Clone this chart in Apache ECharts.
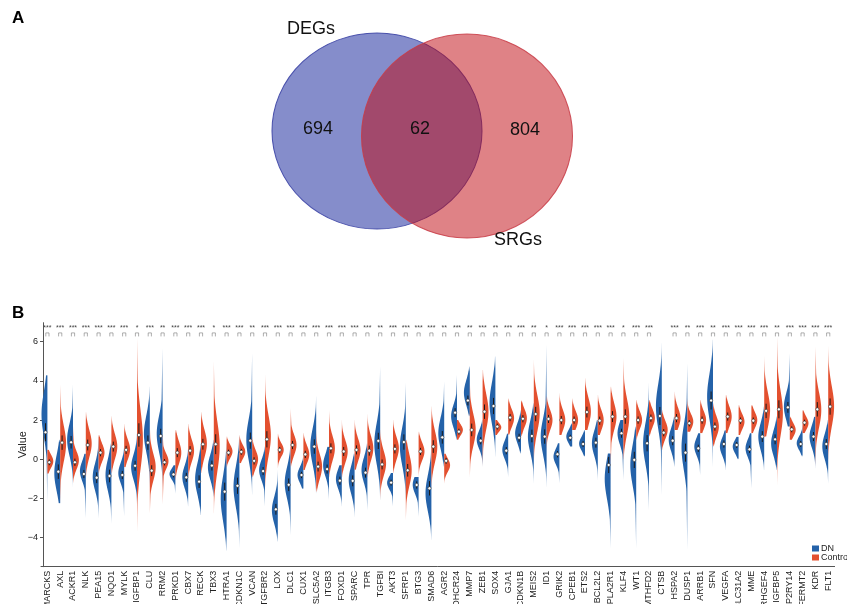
<!DOCTYPE html>
<html>
<head>
<meta charset="utf-8">
<script src="https://cdn.jsdelivr.net/npm/echarts@6.0.0/dist/echarts.min.js"></script>
<style>html,body{margin:0;padding:0;background:#fff}#c{width:847px;height:604px}</style>
</head>
<body>
<div id="c"></div>
<script>
// ---------------- data ----------------
const vennLabels = ['DEGs', 'SRGs'];
const vennCounts = [694, 62, 804];

const genes = ['MARCKS','AXL','ACKR1','NLK','PEA15','NQO1','MYLK','IGFBP1','CLU','RRM2',
 'PRKD1','CBX7','RECK','TBX3','HTRA1','CDKN1C','VCAN','TGFBR2','LOX','DLC1',
 'CUX1','SLC5A2','ITGB3','FOXD1','SPARC','TPR','TGFBI','AKT3','SFRP1','BTG3',
 'SMAD6','AGR2','DHCR24','MMP7','ZEB1','SOX4','GJA1','CDKN1B','MEIS2','ID1',
 'GRIK2','CPEB1','ETS2','BCL2L2','PLA2R1','KLF4','WT1','MTHFD2','CTSB','HSPA2',
 'DUSP1','ARRB1','SFN','VEGFA','SLC31A2','MME','ARHGEF4','IGFBP5','P2RY14','FERMT2',
 'KDR','FLT1'];

const sig = ['***','***','***','***','***','***','***','*','***','**',
 '***','***','***','*','***','***','**','***','***','***',
 '***','***','***','***','***','***','**','***','***','***',
 '***','**','***','**','***','**','***','***','**','*',
 '***','***','***','***','***','*','***','***','','***',
 '**','***','**','***','***','***','***','**','***','***',
 '***','***'];

// DN group (blue): lower end, mode, upper end, median, body spread
const dnLo = [-2.16,-2.25,-1.4,-3.0,-3.0,-3.26,-2.9,-2.25,-1.4,-1.4,
 -1.75,-2.4,-2.84,-1.9,-4.65,-4.5,-1.8,-2.4,-4.2,-3.86,
 -1.5,-1.73,-2.07,-2.4,-2.93,-2.6,-2.07,-2.4,-2.07,-2.93,
 -4.1,-0.37,1.0,2.2,-0.37,0.14,-0.9,0.3,-1.22,-1.4,
 -1.22,0.65,0.14,-1.05,-4.54,-1.05,-4.54,-2.58,-1.82,-0.37,
 -4.6,-0.8,-0.37,-0.54,0.0,-1.48,-0.55,-0.55,1.67,0.14,
 -0.46,-1.22];
const dnMode = [2.3,-0.7,1.0,-0.6,-0.9,-0.8,-0.7,-0.4,1.3,1.3,
 -0.75,-0.9,-1.0,-0.4,-2.0,-1.4,1.0,-0.55,-2.6,-1.2,
 -0.8,0.65,-0.3,-1.0,-1.05,-0.55,0.8,-1.2,0.65,-1.3,
 -1.73,1.33,2.2,3.4,1.0,2.86,0.48,1.33,1.16,1.16,
 0.14,1.16,0.8,0.82,-1.0,1.33,-0.3,0.8,2.7,1.0,
 0.6,0.65,3.2,0.65,0.65,0.56,1.16,0.82,2.69,0.82,
 1.16,0.65];
const dnHi = [4.3,1.0,3.8,0.3,1.24,0.8,0.65,1.3,3.7,5.66,
 -0.3,0.5,0.8,1.0,0.8,1.16,5.4,0.65,-0.55,0.65,
 0.1,3.2,0.65,-0.3,0.3,0.8,4.73,-0.7,3.9,-0.9,
 0.65,3.96,4.3,4.73,2.0,5.24,1.33,2.5,2.86,5.83,
 0.82,1.84,1.5,2.0,0.3,2.0,1.67,3.88,5.92,2.18,
 4.9,1.33,6.1,1.5,1.16,1.33,2.7,2.18,5.4,1.84,
 2.18,2.0];
const dnMed = [1.38,-0.63,0.87,-0.75,-0.94,-0.85,-0.8,-0.33,0.85,1.19,
 -0.77,-0.92,-1.14,-0.32,-1.65,-1.35,0.95,-0.6,-2.55,-1.3,
 -0.8,0.65,-0.5,-1.09,-1.1,-0.68,0.94,-1.19,0.88,-1.31,
 -1.48,1.12,2.38,3.0,0.95,2.72,0.44,1.1,1.19,1.16,
 0.26,1.1,0.78,0.85,-0.29,1.33,-0.03,0.82,2.21,0.95,
 0.34,0.56,3.0,0.78,0.73,0.51,1.16,1.02,2.65,0.78,
 1.16,0.78];
const dnSd = [1.0,0.8,0.7,0.45,0.6,0.7,0.45,0.55,0.8,0.8,
 0.25,0.5,0.7,0.55,1.0,0.9,0.9,0.45,0.6,0.7,
 0.35,0.8,0.5,0.45,0.6,0.55,0.9,0.3,0.85,0.4,
 0.8,0.7,0.5,0.55,0.4,0.9,0.4,0.45,0.7,0.8,
 0.35,0.3,0.3,0.55,0.9,0.5,0.9,0.9,1.0,0.5,
 1.0,0.4,1.0,0.4,0.3,0.4,0.6,0.55,0.6,0.3,
 0.5,0.55];

// Control group (red)
const ctLo = [-0.75,-2.2,-1.2,-0.9,-0.7,-0.7,-0.4,-3.7,-2.75,-2.3,
 -1.05,-0.9,-0.7,-2.75,-0.4,-0.2,-0.9,-1.4,-0.45,-0.37,
 -0.54,-1.65,-0.9,-0.9,-0.55,-0.9,-2.07,-0.7,-3.1,-0.9,
 -1.4,-1.22,1.0,-0.9,-0.37,1.24,1.24,1.16,0.0,0.48,
 1.24,1.5,1.5,1.24,-0.37,0.0,1.0,1.16,0.48,1.5,
 1.41,1.33,0.65,1.33,1.24,1.33,1.16,-1.31,1.0,1.33,
 -0.37,0.0];
const ctMode = [-0.1,0.8,-0.05,0.8,0.34,0.65,0.5,1.0,-0.4,-0.1,
 0.34,0.44,0.8,0.65,0.4,0.38,0.0,1.2,0.48,0.73,
 0.25,-0.37,0.56,0.4,0.48,0.56,-0.2,0.56,-0.55,0.4,
 0.65,-0.3,1.5,1.5,2.43,1.63,2.1,2.1,2.35,2.0,
 2.0,2.0,2.43,2.0,2.18,2.18,2.0,2.1,1.5,2.1,
 1.92,2.0,1.67,2.18,1.92,2.0,2.52,2.35,1.5,1.84,
 2.52,2.7];
const ctHi = [0.5,3.8,1.7,2.4,1.24,2.2,1.8,6.2,1.7,1.3,
 1.5,1.8,2.4,5.0,1.16,1.24,1.16,4.3,1.3,2.6,
 1.34,1.5,2.5,2.0,2.0,2.3,1.5,2.0,1.0,1.4,
 2.7,0.3,2.0,4.0,4.56,2.0,3.1,3.0,5.07,3.2,
 3.37,3.1,4.13,3.28,3.7,5.15,3.03,3.03,2.52,3.45,
 3.1,3.03,2.86,3.28,2.77,2.77,5.24,6.26,2.18,2.52,
 5.75,5.75];
const ctMed = [-0.15,0.85,-0.15,0.73,0.34,0.65,0.48,1.24,-0.58,-0.15,
 0.34,0.44,0.77,0.77,0.34,0.38,-0.08,1.02,0.48,0.73,
 0.25,-0.37,0.56,0.4,0.48,0.44,-0.26,0.53,-0.56,0.4,
 0.65,-0.08,1.41,1.5,2.43,1.67,2.13,2.07,2.31,2.06,
 2.0,2.0,2.41,1.97,2.18,2.18,2.0,2.1,1.36,2.1,
 1.84,2.0,1.67,2.18,1.97,1.97,2.47,2.55,1.53,1.87,
 2.55,2.69];
const ctSd = [0.3,0.8,0.4,0.6,0.4,0.55,0.45,1.3,0.6,0.35,
 0.5,0.5,0.6,1.1,0.3,0.3,0.4,0.9,0.3,0.45,
 0.4,0.55,0.55,0.5,0.5,0.55,0.55,0.5,0.7,0.4,
 0.7,0.3,0.25,0.7,0.8,0.2,0.4,0.4,0.8,0.45,
 0.45,0.4,0.6,0.45,0.6,0.8,0.4,0.4,0.4,0.45,
 0.35,0.4,0.45,0.45,0.35,0.35,0.8,1.0,0.3,0.3,
 0.8,0.9];

const yTicks = [-4, -2, 0, 2, 4, 6];

// ---------------- drawing ----------------
const BLUE = [36, 98, 169];
const RED = [227, 80, 47];
const rgba = (c, a) => 'rgba(' + c[0] + ',' + c[1] + ',' + c[2] + ',' + a + ')';
const SIG_Y = 6.7, BR_TOP = 6.45, BR_BOT = 6.27;
const SD_SCALE = 1.15, TAIL = 0.26;

function makeHalf(side, col) {
  return function (params, api) {
    const i = api.value(0), lo = api.value(1), mode = api.value(2),
          hi = api.value(3), med = api.value(4), sd = api.value(5) * SD_SCALE;
    const cx = api.coord([i, 0])[0];
    const band = api.size([1, 0])[0];
    const W = band * 0.46;
    const pts = [[cx, api.coord([i, hi])[1]]];
    const N = 70;
    for (let k = 0; k <= N; k++) {
      const v = hi - (hi - lo) * k / N;
      const d = v - mode;
      const sideLen = d >= 0 ? (hi - mode) : (mode - lo);
      const g = Math.exp(-0.5 * (d / sd) * (d / sd));
      const t = sideLen > 0 ? TAIL * Math.pow(Math.max(0, 1 - Math.abs(d) / sideLen), 0.8) : 0;
      const f = Math.max(g, t);
      pts.push([cx + side * W * f, api.coord([i, v])[1]]);
    }
    pts.push([cx, api.coord([i, lo])[1]]);
    const span = hi - lo;
    let t1 = (hi - (mode + 1.7 * sd)) / span, t2 = (hi - (mode - 1.7 * sd)) / span;
    t1 = Math.min(Math.max(t1, 0), 1); t2 = Math.min(Math.max(t2, t1), 1);
    const fill = new echarts.graphic.LinearGradient(0, 0, 0, 1, [
      { offset: 0, color: rgba(col, 0.3) },
      { offset: t1, color: rgba(col, 1) },
      { offset: t2, color: rgba(col, 1) },
      { offset: 1, color: rgba(col, 0.3) }
    ]);
    const bx = cx + side * 1.9;
    const q = Math.max(0.4 * sd, 0.15);
    const ya = api.coord([i, Math.min(med + q, hi)])[1];
    const yb = api.coord([i, Math.max(med - q, lo)])[1];
    const ym = api.coord([i, med])[1];
    return {
      type: 'group',
      children: [
        { type: 'polygon', shape: { points: pts }, style: { fill: fill, stroke: null } },
        { type: 'line', shape: { x1: bx, y1: ya, x2: bx, y2: yb }, style: { stroke: '#1a1a1a', lineWidth: 1 } },
        { type: 'circle', shape: { cx: bx, cy: ym, r: 1.6 }, style: { fill: '#fff', stroke: '#333', lineWidth: 0.6 } }
      ]
    };
  };
}

function renderSig(params, api) {
  const i = api.value(0);
  const s = sig[params.dataIndex];
  if (!s) return { type: 'group', children: [] };
  const p = api.coord([i, SIG_Y]);
  const yt = api.coord([i, BR_TOP])[1], yb = api.coord([i, BR_BOT])[1];
  const cx = p[0];
  return {
    type: 'group',
    children: [
      { type: 'text', style: { text: s, x: cx, y: p[1], align: 'center', verticalAlign: 'middle',
          font: '7px "Liberation Sans", Arial, sans-serif', fill: '#444' } },
      { type: 'polyline', shape: { points: [[cx - 1.6, yb], [cx - 1.6, yt], [cx + 1.6, yt], [cx + 1.6, yb]] },
        style: { stroke: '#777', lineWidth: 0.6, fill: null } }
    ]
  };
}

const dnData = genes.map((g, i) => [i, dnLo[i], dnMode[i], dnHi[i], dnMed[i], dnSd[i]]);
const ctData = genes.map((g, i) => [i, ctLo[i], ctMode[i], ctHi[i], ctMed[i], ctSd[i]]);
const sigData = genes.map((g, i) => [i, SIG_Y]);

const FONT = '"Liberation Sans", Arial, Helvetica, sans-serif';
const chart = echarts.init(document.getElementById('c'), null, { renderer: 'canvas' });

const option = {
  animation: false,
  backgroundColor: '#fff',
  textStyle: { fontFamily: FONT },
  graphic: [
    { type: 'text', left: 12, top: 10, style: { text: 'A', font: 'bold 17px ' + FONT, fill: '#000' } },
    { type: 'text', left: 12, top: 305, style: { text: 'B', font: 'bold 17px ' + FONT, fill: '#000' } },
    { type: 'circle', x: 377, y: 131, scaleX: 1.05, scaleY: 0.98, shape: { cx: 0, cy: 0, r: 100 },
      style: { fill: 'rgba(33,48,160,0.55)', stroke: 'rgba(60,68,165,0.9)', lineWidth: 1 }, z: 1 },
    { type: 'circle', x: 467, y: 136, scaleX: 1.055, scaleY: 1.02, shape: { cx: 0, cy: 0, r: 100 },
      style: { fill: 'rgba(191,5,13,0.5)', stroke: 'rgba(200,60,70,0.85)', lineWidth: 1 }, z: 2 },
    { type: 'text', x: 311, y: 29, z: 5, style: { text: vennLabels[0], align: 'center', verticalAlign: 'middle', font: '18px ' + FONT, fill: '#111' } },
    { type: 'text', x: 518, y: 240, z: 5, style: { text: vennLabels[1], align: 'center', verticalAlign: 'middle', font: '18px ' + FONT, fill: '#111' } },
    { type: 'text', x: 318, y: 129.5, z: 5, style: { text: String(vennCounts[0]), align: 'center', verticalAlign: 'middle', font: '18px ' + FONT, fill: '#111' } },
    { type: 'text', x: 420, y: 129.5, z: 5, style: { text: String(vennCounts[1]), align: 'center', verticalAlign: 'middle', font: '18px ' + FONT, fill: '#111' } },
    { type: 'text', x: 525, y: 130.5, z: 5, style: { text: String(vennCounts[2]), align: 'center', verticalAlign: 'middle', font: '18px ' + FONT, fill: '#111' } }
  ],
  legend: {
    data: ['DN', 'Control'],
    orient: 'vertical', left: 812, top: 544, padding: 0,
    itemWidth: 7, itemHeight: 6, itemGap: 0, icon: 'rect',
    textStyle: { fontSize: 9, color: '#222', fontFamily: FONT, padding: [0, 0, 0, -3], lineHeight: 6 }
  },
  grid: { left: 41, top: 322.7, width: 62 * 12.8, height: 244, containLabel: false, outerBoundsMode: 'none' },
  xAxis: {
    type: 'category', data: genes, boundaryGap: true,
    axisLine: { onZero: false, lineStyle: { color: '#555', width: 1 } },
    axisTick: { alignWithLabel: true, length: 3, lineStyle: { color: '#555' } },
    axisLabel: { rotate: 90, interval: 0, fontSize: 9, color: '#222', margin: 4, fontFamily: FONT },
    splitLine: { show: false }
  },
  yAxis: {
    type: 'value', min: -5.48, max: 6.97, offset: -2,
    name: 'Value', nameLocation: 'middle', nameGap: 15, nameRotate: 90, nameMoveOverlap: false,
    nameTextStyle: { fontSize: 11, color: '#222', fontFamily: FONT },
    axisLine: { show: true, onZero: false, lineStyle: { color: '#555', width: 1 } },
    axisTick: { show: true, length: 3, customValues: yTicks, lineStyle: { color: '#555' } },
    axisLabel: { customValues: yTicks, fontSize: 9, color: '#222', margin: 5, fontFamily: FONT,
      formatter: v => String(v).replace('-', '\u2212') },
    splitLine: { show: false }
  },
  series: [
    { name: 'DN', type: 'custom', renderItem: makeHalf(-1, BLUE), data: dnData,
      itemStyle: { color: rgba(BLUE, 1) }, encode: { x: 0, y: [1, 3] }, z: 3 },
    { name: 'Control', type: 'custom', renderItem: makeHalf(1, RED), data: ctData,
      itemStyle: { color: rgba(RED, 1) }, encode: { x: 0, y: [1, 3] }, z: 3 },
    { name: 'sig', type: 'custom', renderItem: renderSig, data: sigData, encode: { x: 0, y: 1 }, z: 4, silent: true }
  ]
};
chart.setOption(option);
</script>
</body>
</html>
